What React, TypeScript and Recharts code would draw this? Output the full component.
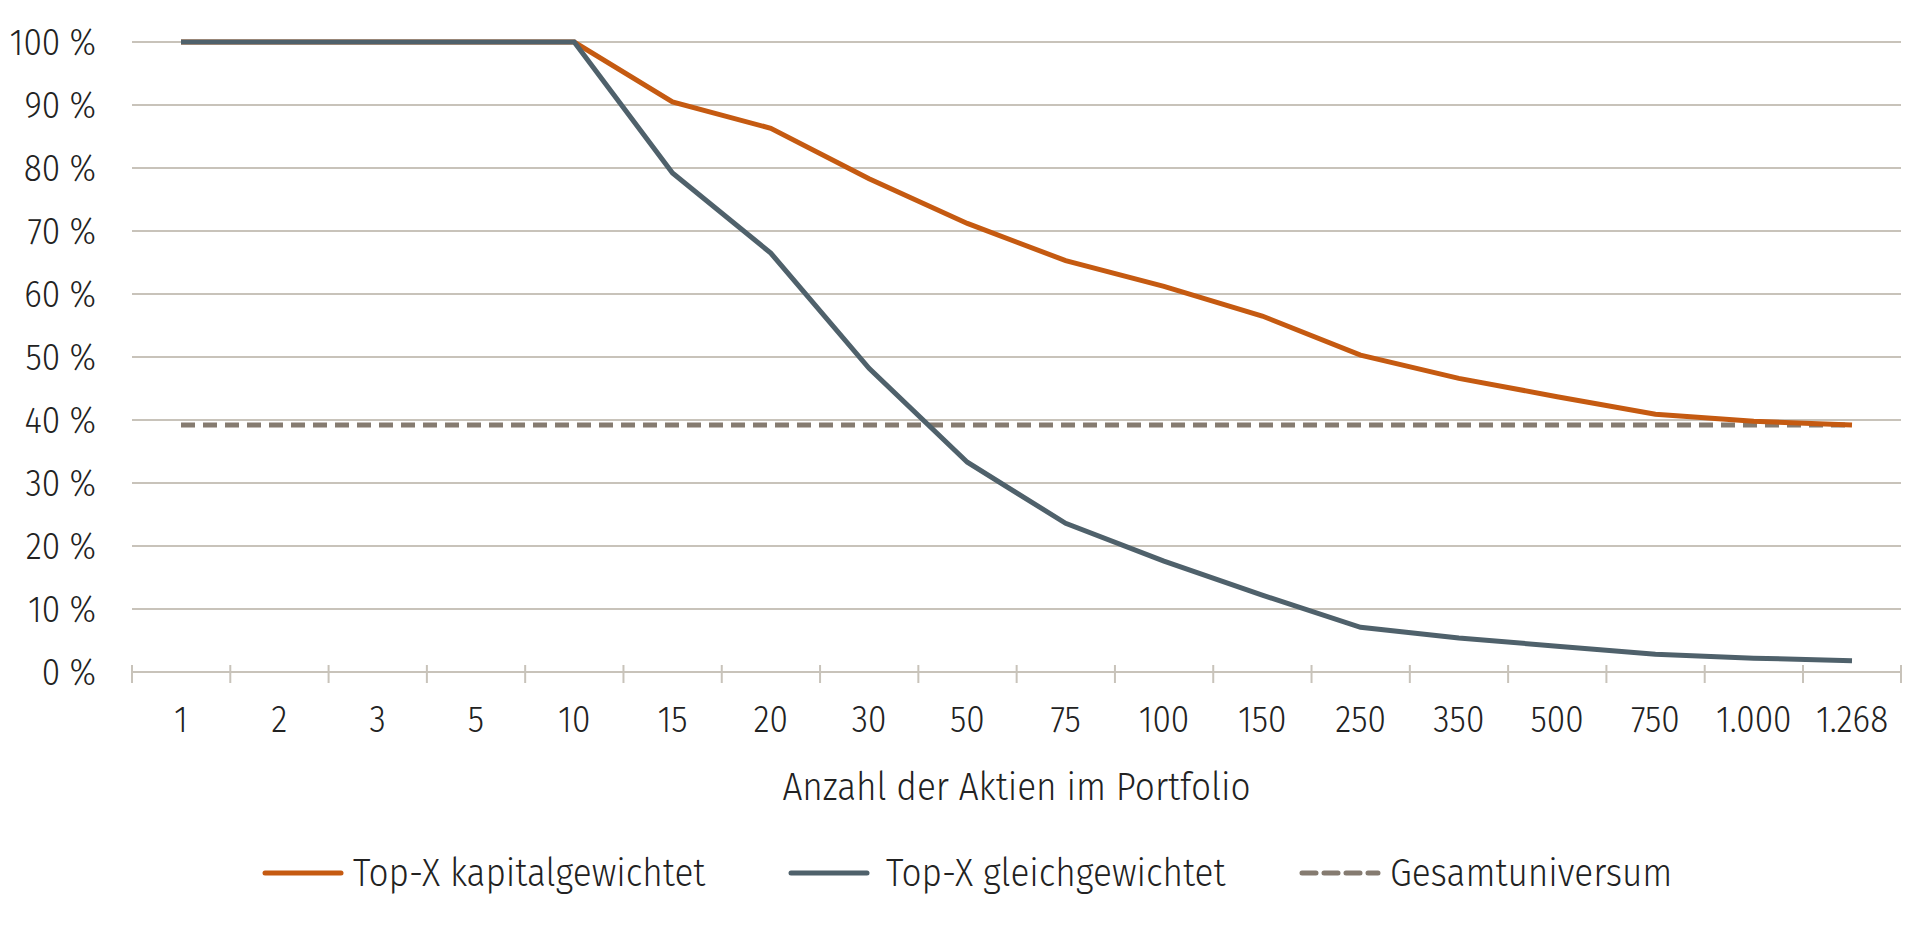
import React from 'react';
import { LineChart, Line, XAxis, YAxis, CartesianGrid } from 'recharts';

const categories = ['1','2','3','5','10','15','20','30','50','75','100','150','250','350','500','750','1.000','1.268'];
const kapital = [100,100,100,100,100,90.5,86.3,78.3,71.2,65.3,61.2,56.5,50.3,46.6,43.7,40.9,39.8,39.2];
const gleich = [100,100,100,100,100,79.2,66.5,48.2,33.3,23.6,17.6,12.2,7.1,5.4,4.1,2.8,2.2,1.8];
const gesamt = [39.2,39.2,39.2,39.2,39.2,39.2,39.2,39.2,39.2,39.2,39.2,39.2,39.2,39.2,39.2,39.2,39.2,39.2];
const yTicks = [0,10,20,30,40,50,60,70,80,90,100];

const data = categories.map((c, i) => ({ c, k: kapital[i], g: gleich[i], u: gesamt[i] }));

const FONT = '"Fira Sans", "Open Sans", sans-serif';
const GRID = '#C8C3BA';
const HALF = 49;

const CText = ({ x, y, anchor = 'start', size = 40, sx = 0.88, children }: any) => (
  <text transform={`translate(${x},${y}) scale(${sx},1)`} x={0} y={0} textAnchor={anchor} dominantBaseline="central" fill="#222" fontSize={size} fontFamily={FONT} fontWeight={300}>{children}</text>
);

const XTick = (props: any) => {
  const { x, y, payload, index } = props;
  const last = index === categories.length - 1;
  return (
    <g>
      <line x1={x - HALF} x2={x - HALF} y1={y - 9} y2={y + 9} stroke={GRID} strokeWidth={2} />
      {last && <line x1={x + HALF} x2={x + HALF} y1={y - 9} y2={y + 9} stroke={GRID} strokeWidth={2} />}
      <CText x={x} y={y + 45} anchor="middle" size={38}>{payload.value}</CText>
    </g>
  );
};

const YTick = (props: any) => {
  const { x, y, payload } = props;
  return <CText x={x} y={y} anchor="end" size={38}>{`${payload.value} %`}</CText>;
};

const LabelAndLegend = (props: any) => {
  const vb = props.viewBox;
  const cy = 865;
  const items = [
    { x: 257, tx: 345, color: '#C55A11', dash: undefined, label: 'Top-X kapitalgewichtet' },
    { x: 783, tx: 878, color: '#4F616B', dash: undefined, label: 'Top-X gleichgewichtet' },
    { x: 1294, tx: 1382, color: '#857B70', dash: '14 8', label: 'Gesamtuniversum' },
  ];
  return (
    <g>
      <CText x={vb.x + vb.width / 2} y={vb.y + 115} anchor="middle">Anzahl der Aktien im Portfolio</CText>
      {items.map((it) => (
        <g key={it.label}>
          <line x1={it.x} x2={it.x + 76} y1={cy} y2={cy} stroke={it.color} strokeWidth={5} strokeDasharray={it.dash} strokeLinecap="round" />
          <CText x={it.tx} y={cy}>{it.label}</CText>
        </g>
      ))}
    </g>
  );
};

export default function App() {
  return (
    <LineChart width={1904} height={912} data={data} margin={{ top: 34, right: 11, left: 24, bottom: 98 }}>
      <CartesianGrid vertical={false} stroke={GRID} strokeWidth={2} />
      <XAxis dataKey="c" padding={{ left: HALF, right: HALF }} axisLine={{ stroke: GRID, strokeWidth: 2 }} tickLine={false} tickSize={0} height={150} interval={0} tick={<XTick />} label={<LabelAndLegend />} />
      <YAxis domain={[0, 100]} ticks={yTicks} width={100} axisLine={false} tickLine={false} tickSize={0} tickMargin={36} tick={<YTick />} />
      <Line dataKey="u" stroke="#857B70" strokeWidth={5} strokeDasharray="14 8" dot={false} isAnimationActive={false} />
      <Line dataKey="k" stroke="#C55A11" strokeWidth={5} dot={false} isAnimationActive={false} />
      <Line dataKey="g" stroke="#4F616B" strokeWidth={5} dot={false} isAnimationActive={false} />
    </LineChart>
  );
}
